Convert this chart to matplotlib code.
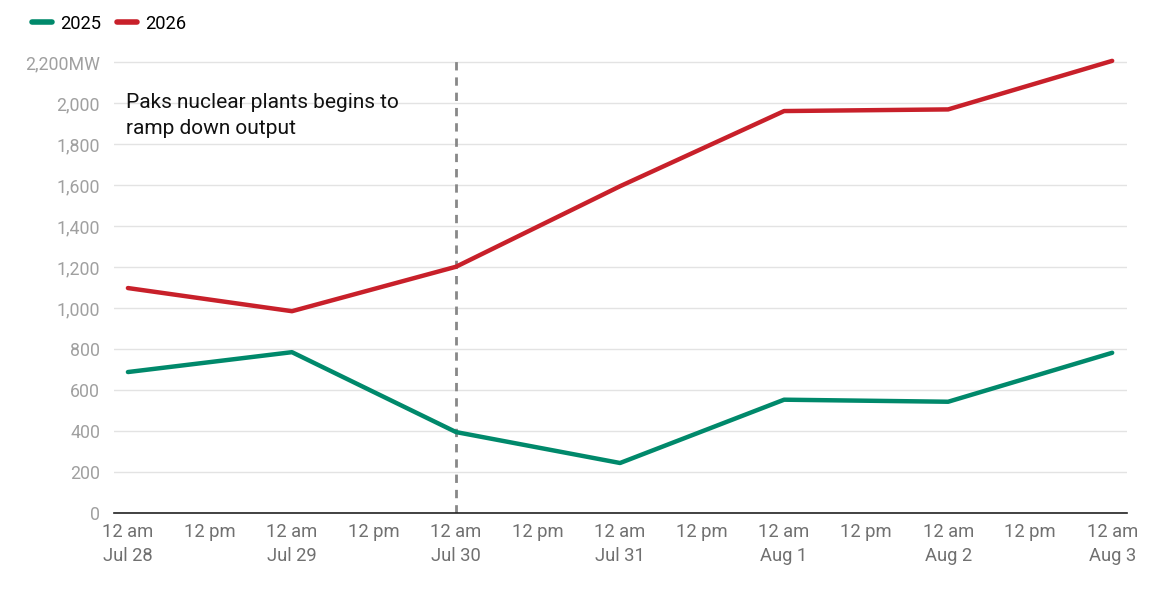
import numpy as np
import matplotlib.pyplot as plt
from matplotlib.lines import Line2D

plt.rcParams['font.family'] = ['Roboto', 'DejaVu Sans']

# days since 12 am Jul 28
days = [0, 1, 2, 3, 4, 5, 6]
mw_2025 = [688, 785, 395, 244, 553, 543, 782]
mw_2026 = [1098, 985, 1202, 1595, 1962, 1970, 2207]

tick_pos = [0, 0.5, 1, 1.5, 2, 2.5, 3, 3.5, 4, 4.5, 5, 5.5, 6]
tick_labels = ['12 am\nJul 28', '12 pm', '12 am\nJul 29', '12 pm', '12 am\nJul 30', '12 pm',
               '12 am\nJul 31', '12 pm', '12 am\nAug 1', '12 pm', '12 am\nAug 2', '12 pm',
               '12 am\nAug 3']
y_ticks = [0, 200, 400, 600, 800, 1000, 1200, 1400, 1600, 1800, 2000, 2200]
y_labels = ['0', '200', '400', '600', '800', '1,000', '1,200', '1,400', '1,600',
            '1,800', '2,000', '2,200MW']

green = '#00896b'
red = '#c8202a'

fig = plt.figure(figsize=(11.63, 5.91), dpi=100)
ax = fig.add_axes([0.098, 0.132, 0.871, 0.773])

ax.plot(days, mw_2025, color=green, lw=3.2, solid_capstyle='round', zorder=3)
ax.plot(days, mw_2026, color=red, lw=3.2, solid_capstyle='round', zorder=3)

ax.axvline(2, color='#888888', lw=2, ls=(0, (3, 2.5)), zorder=2)
ax.text(-0.01, 1942, 'Paks nuclear plants begins to\nramp down output', fontsize=15,
        color='#111111', va='center', ha='left', linespacing=1.45, zorder=4)

ax.set_xlim(-0.085, 6.09)
ax.set_ylim(0, 2230)
ax.set_yticks(y_ticks)
ax.set_yticklabels(y_labels)
ax.set_xticks(tick_pos)
ax.set_xticklabels(tick_labels, linespacing=1.45)
ax.grid(axis='y', color='#e3e3e3', lw=1)
ax.set_axisbelow(True)
for s in ['top', 'right', 'left']:
    ax.spines[s].set_visible(False)
ax.spines['bottom'].set_color('#222222')
ax.spines['bottom'].set_linewidth(1.2)
ax.tick_params(axis='y', length=0, pad=10, labelsize=12.8, labelcolor='#a0a0a0')
ax.tick_params(axis='x', length=0, pad=7, labelsize=13.2, labelcolor='#707070')

handles = [Line2D([0], [0], color=green, lw=4, solid_capstyle='round'),
           Line2D([0], [0], color=red, lw=4, solid_capstyle='round')]
fig.legend(handles, ['2025', '2026'], loc='upper left', bbox_to_anchor=(0.0135, 1.003),
           ncol=2, frameon=False, fontsize=13.2, handlelength=1.1, handletextpad=0.4,
           columnspacing=0.9)

fig.savefig('out.png', dpi=100)
